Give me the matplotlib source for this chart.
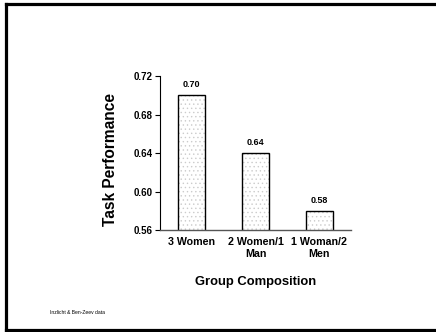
import matplotlib
matplotlib.use("Agg")
import matplotlib.pyplot as plt
from matplotlib.lines import Line2D

plt.rcParams["font.family"] = ["Liberation Sans", "DejaVu Sans"]
plt.rcParams["hatch.linewidth"] = 0.5

# ── 데이터 ──────────────────────────────────────
groups = ["3 Women", "2 Women/1\nMan", "1 Woman/2\nMen"]
performance = [0.70, 0.64, 0.58]
value_labels = ["0.70", "0.64", "0.58"]
y_ticks = [0.56, 0.60, 0.64, 0.68, 0.72]

fig = plt.figure(figsize=(4.36, 3.32), dpi=100)
ax = fig.add_axes([0.367, 0.307, 0.438, 0.464])

x = range(len(groups))
# 점무늬 채움
ax.bar(x, performance, width=0.42, color="white", edgecolor="#cccccc",
       hatch="....", linewidth=0)
ax.bar(x, performance, width=0.42, fill=False, edgecolor="black",
       linewidth=1.0)

for xi, v, lab in zip(x, performance, value_labels):
    ax.annotate(lab, (xi, v), xytext=(0, 4.5), textcoords="offset points",
                ha="center", va="bottom", fontsize=6.5, fontweight="bold")

ax.set_xlim(-0.5, 2.5)
ax.set_ylim(0.56, 0.72)
ax.set_yticks(y_ticks)
ax.set_yticklabels([f"{t:.2f}" for t in y_ticks], fontsize=7, fontweight="bold")
ax.set_xticks(list(x))
ax.set_xticklabels(groups, fontsize=7.7, fontweight="bold", linespacing=1.3)
ax.tick_params(axis="x", length=0, pad=5)
ax.tick_params(axis="y", length=3.5, width=0.8, pad=2)

ax.spines["top"].set_visible(False)
ax.spines["right"].set_visible(False)
ax.spines["left"].set_linewidth(0.8)
ax.spines["bottom"].set_linewidth(1.0)
ax.spines["bottom"].set_color("#555555")

ax.set_ylabel("Task Performance", fontsize=11.2, fontweight="bold")
ax.yaxis.set_label_coords(-0.22, 0.455)
ax.set_xlabel("Group Composition", fontsize=9.4, fontweight="bold")
ax.xaxis.set_label_coords(0.5, -0.295)

fig.text(50 / 436, 1 - 313 / 332, "Inzlicht & Ben-Zeev data", fontsize=3.6,
         va="center", ha="left")

# 슬라이드 테두리 (오른쪽은 열림)
W, H = 436, 332
for xs, ys in [([6 / W, 6 / W], [1 - 4 / H, 1 - 330 / H]),
               ([6 / W, 1.0], [1 - 4 / H, 1 - 4 / H]),
               ([6 / W, 1.0], [1 - 330 / H, 1 - 330 / H])]:
    fig.add_artist(Line2D(xs, ys, color="black", linewidth=2.3,
                          transform=fig.transFigure, solid_capstyle="projecting"))

fig.savefig("out.png", dpi=100)
plt.close(fig)
